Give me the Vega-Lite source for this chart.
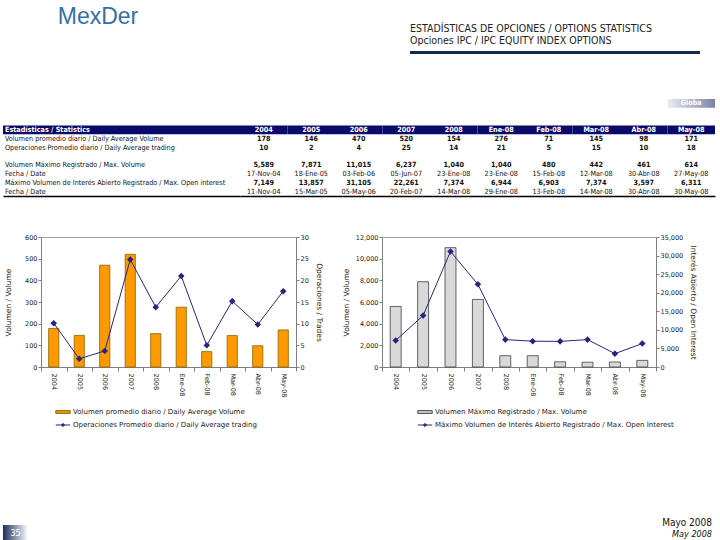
{
"$schema": "https://vega.github.io/schema/vega-lite/v6.json",
"padding": {"left": 3, "top": 5, "right": 3, "bottom": 0},
"background": "white",
"config": {
  "view": {"stroke": null},
  "font": "DejaVu Sans",
  "axis": {"labelFont": "DejaVu Sans", "labelFontSize": 6.5, "labelColor": "#222", "titleFont": "DejaVu Sans", "titleFontSize": 7.5, "titleFontWeight": "normal", "titleColor": "#222", "domainColor": "#7f7f7f", "tickColor": "#7f7f7f", "tickSize": 3, "labelPadding": 1, "grid": false},
  "legend": {"labelFont": "DejaVu Sans", "labelFontSize": 7, "labelColor": "#222", "labelLimit": 400},
  "title": {"fontWeight": "normal"}
},
"datasets": {
  "lbl": [
    {"row": "h", "label": "Estadísticas / Statistics"},
    {"row": "r1", "label": "Volumen promedio diario / Daily Average Volume"},
    {"row": "r2", "label": "Operaciones Promedio diario / Daily Average trading"},
    {"row": "r4", "label": "Volumen Máximo Registrado / Max. Volume"},
    {"row": "r5", "label": "\u2003\u2003\u2003\u2003\u2003\u2003\u2003\u2003\u2003Fecha / Date"},
    {"row": "r6", "label": "Máximo Volumen de Interés Abierto Registrado / Max. Open interest"},
    {"row": "r7", "label": "\u2003\u2003\u2003\u2003\u2003\u2003\u2003\u2003\u2003Fecha / Date"}
  ],
  "tbl": [
    {"row": "t", "col": "May-08", "v": "Globa"},
    {"row": "h", "col": "2004", "v": "2004"}, {"row": "h", "col": "2005", "v": "2005"}, {"row": "h", "col": "2006", "v": "2006"}, {"row": "h", "col": "2007", "v": "2007"}, {"row": "h", "col": "2008", "v": "2008"}, {"row": "h", "col": "Ene-08", "v": "Ene-08"}, {"row": "h", "col": "Feb-08", "v": "Feb-08"}, {"row": "h", "col": "Mar-08", "v": "Mar-08"}, {"row": "h", "col": "Abr-08", "v": "Abr-08"}, {"row": "h", "col": "May-08", "v": "May-08"},
    {"row": "r1", "col": "2004", "v": "178"}, {"row": "r1", "col": "2005", "v": "146"}, {"row": "r1", "col": "2006", "v": "470"}, {"row": "r1", "col": "2007", "v": "520"}, {"row": "r1", "col": "2008", "v": "154"}, {"row": "r1", "col": "Ene-08", "v": "276"}, {"row": "r1", "col": "Feb-08", "v": "71"}, {"row": "r1", "col": "Mar-08", "v": "145"}, {"row": "r1", "col": "Abr-08", "v": "98"}, {"row": "r1", "col": "May-08", "v": "171"},
    {"row": "r2", "col": "2004", "v": "10"}, {"row": "r2", "col": "2005", "v": "2"}, {"row": "r2", "col": "2006", "v": "4"}, {"row": "r2", "col": "2007", "v": "25"}, {"row": "r2", "col": "2008", "v": "14"}, {"row": "r2", "col": "Ene-08", "v": "21"}, {"row": "r2", "col": "Feb-08", "v": "5"}, {"row": "r2", "col": "Mar-08", "v": "15"}, {"row": "r2", "col": "Abr-08", "v": "10"}, {"row": "r2", "col": "May-08", "v": "18"},
    {"row": "r4", "col": "2004", "v": "5,589"}, {"row": "r4", "col": "2005", "v": "7,871"}, {"row": "r4", "col": "2006", "v": "11,015"}, {"row": "r4", "col": "2007", "v": "6,237"}, {"row": "r4", "col": "2008", "v": "1,040"}, {"row": "r4", "col": "Ene-08", "v": "1,040"}, {"row": "r4", "col": "Feb-08", "v": "480"}, {"row": "r4", "col": "Mar-08", "v": "442"}, {"row": "r4", "col": "Abr-08", "v": "461"}, {"row": "r4", "col": "May-08", "v": "614"},
    {"row": "r5", "col": "2004", "v": "17-Nov-04"}, {"row": "r5", "col": "2005", "v": "18-Ene-05"}, {"row": "r5", "col": "2006", "v": "03-Feb-06"}, {"row": "r5", "col": "2007", "v": "05-Jun-07"}, {"row": "r5", "col": "2008", "v": "23-Ene-08"}, {"row": "r5", "col": "Ene-08", "v": "23-Ene-08"}, {"row": "r5", "col": "Feb-08", "v": "15-Feb-08"}, {"row": "r5", "col": "Mar-08", "v": "12-Mar-08"}, {"row": "r5", "col": "Abr-08", "v": "30-Abr-08"}, {"row": "r5", "col": "May-08", "v": "27-May-08"},
    {"row": "r6", "col": "2004", "v": "7,149"}, {"row": "r6", "col": "2005", "v": "13,857"}, {"row": "r6", "col": "2006", "v": "31,105"}, {"row": "r6", "col": "2007", "v": "22,261"}, {"row": "r6", "col": "2008", "v": "7,374"}, {"row": "r6", "col": "Ene-08", "v": "6,944"}, {"row": "r6", "col": "Feb-08", "v": "6,903"}, {"row": "r6", "col": "Mar-08", "v": "7,374"}, {"row": "r6", "col": "Abr-08", "v": "3,597"}, {"row": "r6", "col": "May-08", "v": "6,311"},
    {"row": "r7", "col": "2004", "v": "11-Nov-04"}, {"row": "r7", "col": "2005", "v": "15-Mar-05"}, {"row": "r7", "col": "2006", "v": "05-May-06"}, {"row": "r7", "col": "2007", "v": "20-Feb-07"}, {"row": "r7", "col": "2008", "v": "14-Mar-08"}, {"row": "r7", "col": "Ene-08", "v": "29-Ene-08"}, {"row": "r7", "col": "Feb-08", "v": "13-Feb-08"}, {"row": "r7", "col": "Mar-08", "v": "14-Mar-08"}, {"row": "r7", "col": "Abr-08", "v": "30-Abr-08"}, {"row": "r7", "col": "May-08", "v": "30-May-08"}
  ],
  "ser": [
    {"p": "2004", "vol": 178, "ops": 10.1, "maxv": 5589, "oi": 7149},
    {"p": "2005", "vol": 146, "ops": 1.9, "maxv": 7871, "oi": 13857},
    {"p": "2006", "vol": 470, "ops": 3.7, "maxv": 11015, "oi": 31105},
    {"p": "2007", "vol": 520, "ops": 24.8, "maxv": 6237, "oi": 22261},
    {"p": "2008", "vol": 154, "ops": 13.8, "maxv": 1040, "oi": 7374},
    {"p": "Ene-08", "vol": 276, "ops": 21, "maxv": 1040, "oi": 6944},
    {"p": "Feb-08", "vol": 71, "ops": 5, "maxv": 480, "oi": 6903},
    {"p": "Mar-08", "vol": 145, "ops": 15.2, "maxv": 442, "oi": 7374},
    {"p": "Abr-08", "vol": 98, "ops": 9.8, "maxv": 461, "oi": 3597},
    {"p": "May-08", "vol": 171, "ops": 17.5, "maxv": 614, "oi": 6311}
  ]
},
"columns": 1,
"align": "none",
"spacing": 42,
"concat": [
  {
    "bounds": "flush",
    "spacing": 217,
    "hconcat": [
      {
        "width": 190, "height": 1,
        "title": {"text": "MexDer", "anchor": "middle", "font": "Liberation Sans, Arial, sans-serif", "fontSize": 23, "fontWeight": "normal", "color": "#3470a8", "offset": 17},
        "data": {"values": [{}]},
        "mark": {"type": "text", "text": ""},
        "encoding": {}
      },
      {
        "width": 290, "height": 3,
        "title": {"text": "ESTADÍSTICAS DE OPCIONES / OPTIONS STATISTICS", "subtitle": "Opciones IPC / IPC EQUITY INDEX OPTIONS", "anchor": "start", "font": "DejaVu Sans Condensed", "fontSize": 10.5, "fontWeight": "normal", "color": "#222", "subtitleFont": "DejaVu Sans Condensed", "subtitleFontSize": 10.5, "subtitleColor": "#222", "subtitlePadding": 1, "offset": 5},
        "data": {"values": [{}]},
        "mark": {"type": "bar", "color": "#13294b"},
        "encoding": {}
      }
    ]
  },
  {
    "columns": 1,
    "align": "none",
    "spacing": 88,
    "concat": [
      {
        "columns": 1,
        "align": "none",
        "spacing": 35,
        "concat": [
          {
            "spacing": 0,
            "bounds": "flush",
            "resolve": {"scale": {"x": "independent", "y": "independent"}},
            "hconcat": [
              {
                "width": 237, "height": 97,
                "data": {"name": "lbl"},
                "layer": [
                  {
                    "transform": [{"filter": "datum.row === 'h'"}],
                    "mark": {"type": "bar", "color": "#0a0a6a"},
                    "encoding": {"y": {"field": "row", "type": "nominal", "scale": {"type": "band", "domain": ["t", "g1", "g2", "h", "r1", "r2", "gp", "r4", "r5", "r6", "r7"], "paddingInner": 0, "paddingOuter": 0}, "axis": null}}
                  },
                  {
                    "transform": [{"filter": "datum.row === 'h'"}],
                    "mark": {"type": "text", "align": "left", "baseline": "middle", "font": "DejaVu Sans Condensed", "fontSize": 7.2, "fontWeight": "bold", "color": "white", "dx": 2},
                    "encoding": {
                      "x": {"datum": "lab", "type": "nominal", "bandPosition": 0, "scale": {"type": "band", "paddingInner": 0, "paddingOuter": 0}, "axis": {"labels": false, "ticks": false, "title": null, "domainColor": "#000", "domainWidth": 1.5}},
                      "y": {"field": "row", "type": "nominal", "scale": {"type": "band", "domain": ["t", "g1", "g2", "h", "r1", "r2", "gp", "r4", "r5", "r6", "r7"], "paddingInner": 0, "paddingOuter": 0}, "axis": null},
                      "text": {"field": "label"}
                    }
                  },
                  {
                    "transform": [{"filter": "datum.row !== 'h'"}],
                    "mark": {"type": "text", "align": "left", "baseline": "middle", "font": "DejaVu Sans Condensed", "fontSize": 7.2, "color": "#111", "dx": 2},
                    "encoding": {
                      "x": {"datum": "lab", "type": "nominal", "bandPosition": 0},
                      "y": {"field": "row", "type": "nominal"},
                      "text": {"field": "label"}
                    }
                  }
                ]
              },
              {
                "width": 475, "height": 97,
                "data": {"name": "tbl"},
                "encoding": {
                  "x": {"field": "col", "type": "nominal", "sort": null, "scale": {"type": "band", "domain": ["2004", "2005", "2006", "2007", "2008", "Ene-08", "Feb-08", "Mar-08", "Abr-08", "May-08"], "paddingInner": 0, "paddingOuter": 0}, "axis": {"labels": false, "ticks": false, "title": null, "domainColor": "#000", "domainWidth": 1.5}},
                  "y": {"field": "row", "type": "nominal", "scale": {"type": "band", "domain": ["t", "g1", "g2", "h", "r1", "r2", "gp", "r4", "r5", "r6", "r7"], "paddingInner": 0, "paddingOuter": 0}, "axis": null}
                },
                "layer": [
                  {"transform": [{"filter": "datum.row === 'h'"}], "mark": {"type": "rect", "color": "#0a0a6a"}},
                  {"transform": [{"filter": "datum.row === 't'"}], "mark": {"type": "rect", "color": {"gradient": "linear", "x1": 0, "x2": 1, "y1": 0, "y2": 0, "stops": [{"offset": 0, "color": "#eceef4"}, {"offset": 1, "color": "#7b82a6"}]}}},
                  {"transform": [{"filter": "datum.row === 'h' || datum.row === 't'"}], "mark": {"type": "text", "color": "white", "fontWeight": "bold", "font": "DejaVu Sans Condensed", "fontSize": 7.2}, "encoding": {"text": {"field": "v"}}},
                  {"transform": [{"filter": "datum.row === 'r1' || datum.row === 'r2' || datum.row === 'r4' || datum.row === 'r6'"}], "mark": {"type": "text", "color": "#111", "fontWeight": "bold", "font": "DejaVu Sans Condensed", "fontSize": 7.2}, "encoding": {"text": {"field": "v"}}},
                  {"transform": [{"filter": "datum.row === 'r5' || datum.row === 'r7'"}], "mark": {"type": "text", "color": "#111", "font": "DejaVu Sans Condensed", "fontSize": 7.2}, "encoding": {"text": {"field": "v"}}}
                ]
              }
            ]
          },
          {
            "spacing": 0,
            "hconcat": [
              {"width": 1, "height": 1, "data": {"values": [{}]}, "mark": {"type": "text", "text": ""}, "encoding": {}},
              {
                "spacing": 18,
                "resolve": {"scale": {"x": "independent", "y": "independent", "fill": "independent", "stroke": "independent"}, "legend": {"fill": "independent", "stroke": "independent"}},
                "hconcat": [
                  {
                    "width": 255, "height": 130,
                    "view": {"stroke": "#a6a6a6"},
                    "data": {"name": "ser"},
                    "encoding": {"x": {"field": "p", "type": "nominal", "sort": null, "scale": {"paddingInner": 0, "paddingOuter": 0}, "axis": {"title": null, "labelAngle": 90, "tickBand": "extent", "labelPadding": 2, "tickSize": 4}}},
                    "layer": [
                      {
                        "mark": {"type": "bar", "stroke": "#8a6400", "strokeWidth": 0.8, "width": {"band": 0.4}},
                        "encoding": {
                          "y": {"field": "vol", "type": "quantitative", "scale": {"domain": [0, 600]}, "axis": {"title": "Volumen / Volume", "values": [0, 100, 200, 300, 400, 500, 600], "titlePadding": 12}},
                          "fill": {"datum": "Volumen promedio diario / Daily Average Volume", "type": "nominal", "scale": {"range": ["#ff9900"]},
                            "legend": {"orient": "none", "legendX": 17, "legendY": 170, "title": null, "symbolType": "M-1.6,-0.3H1.6V0.3H-1.6Z", "symbolSize": 81, "symbolStrokeColor": "#8a6400", "symbolStrokeWidth": 1, "labelOffset": 5}}
                        }
                      },
                      {
                        "mark": {"type": "line", "strokeWidth": 1, "point": {"filled": true, "color": "#262680", "size": 14, "shape": "diamond"}},
                        "encoding": {
                          "y": {"field": "ops", "type": "quantitative", "scale": {"domain": [0, 30]}, "axis": {"orient": "right", "title": "Operaciones / Trades", "values": [0, 5, 10, 15, 20, 25, 30], "titlePadding": 6}},
                          "stroke": {"datum": "Operaciones Promedio diario / Daily Average trading", "type": "nominal", "scale": {"range": ["#262680"]},
                            "legend": {"orient": "none", "legendX": 17, "legendY": 183, "title": null, "symbolType": "M-1.6,0H1.6M0,-0.35L0.35,0L0,0.35L-0.35,0Z", "symbolSize": 81, "symbolStrokeWidth": 1, "symbolFillColor": "#262680", "labelOffset": 5}}
                        }
                      }
                    ],
                    "resolve": {"scale": {"y": "independent"}}
                  },
                  {
                    "width": 274, "height": 130,
                    "view": {"stroke": "#a6a6a6"},
                    "data": {"name": "ser"},
                    "encoding": {"x": {"field": "p", "type": "nominal", "sort": null, "scale": {"paddingInner": 0, "paddingOuter": 0}, "axis": {"title": null, "labelAngle": 90, "tickBand": "extent", "labelPadding": 2, "tickSize": 4}}},
                    "layer": [
                      {
                        "mark": {"type": "bar", "stroke": "#404040", "strokeWidth": 0.8, "width": {"band": 0.4}},
                        "encoding": {
                          "y": {"field": "maxv", "type": "quantitative", "scale": {"domain": [0, 12000]}, "axis": {"title": "Volumen / Volume", "values": [0, 2000, 4000, 6000, 8000, 10000, 12000], "format": ",d", "titlePadding": 5}},
                          "fill": {"datum": "Volumen Máximo Registrado / Max. Volume", "type": "nominal", "scale": {"range": ["#d9d9d9"]},
                            "legend": {"orient": "none", "legendX": 38, "legendY": 170, "title": null, "symbolType": "M-1.6,-0.3H1.6V0.3H-1.6Z", "symbolSize": 81, "symbolStrokeColor": "#404040", "symbolStrokeWidth": 1, "labelOffset": 5}}
                        }
                      },
                      {
                        "mark": {"type": "line", "strokeWidth": 1, "point": {"filled": true, "color": "#262680", "size": 14, "shape": "diamond"}},
                        "encoding": {
                          "y": {"field": "oi", "type": "quantitative", "scale": {"domain": [0, 35000]}, "axis": {"orient": "right", "title": "Interés Abierto / Open Interest", "values": [0, 5000, 10000, 15000, 20000, 25000, 30000, 35000], "format": ",d", "titlePadding": 6}},
                          "stroke": {"datum": "Máximo Volumen de Interés Abierto Registrado / Max. Open Interest", "type": "nominal", "scale": {"range": ["#262680"]},
                            "legend": {"orient": "none", "legendX": 38, "legendY": 183, "title": null, "symbolType": "M-1.6,0H1.6M0,-0.35L0.35,0L0,0.35L-0.35,0Z", "symbolSize": 81, "symbolStrokeWidth": 1, "symbolFillColor": "#262680", "labelOffset": 5}}
                        }
                      }
                    ],
                    "resolve": {"scale": {"y": "independent"}}
                  }
                ]
              }
            ]
          }
        ]
      },
      {
        "width": 709, "height": 18,
        "data": {"values": [{"page": "35"}]},
        "title": {"text": "Mayo 2008", "subtitle": "May 2008", "anchor": "end", "orient": "top", "offset": -14, "font": "DejaVu Sans Condensed", "fontSize": 10, "fontWeight": "normal", "color": "#111", "subtitleFont": "DejaVu Sans Condensed", "subtitleFontSize": 9, "subtitleFontStyle": "italic", "subtitleColor": "#111", "subtitlePadding": 2},
        "encoding": {"x": {"field": "page", "type": "nominal", "scale": {"type": "band", "range": [0, 25], "paddingInner": 0, "paddingOuter": 0}, "axis": null}},
        "layer": [
          {"mark": {"type": "bar", "color": {"gradient": "linear", "x1": 0, "x2": 1, "y1": 0, "y2": 0, "stops": [{"offset": 0, "color": "#1c2f5a"}, {"offset": 1, "color": "#ffffff"}]}}},
          {"mark": {"type": "text", "color": "white", "fontSize": 8, "font": "DejaVu Sans"}, "encoding": {"text": {"field": "page"}}}
        ]
      }
    ]
  }
]
}
